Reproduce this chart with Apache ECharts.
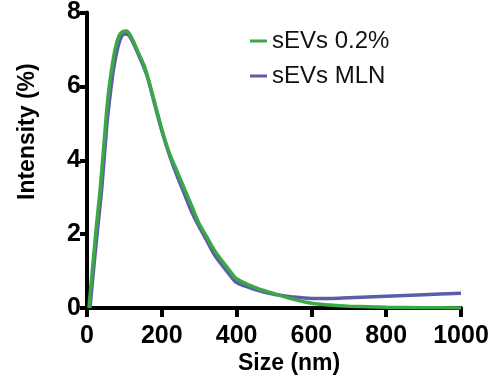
<!DOCTYPE html>
<html>
<head>
<meta charset="utf-8">
<script src="https://cdn.jsdelivr.net/npm/echarts@6/dist/echarts.min.js"></script>
<style>html,body{margin:0;padding:0;background:#fff}#c{width:501px;height:385px}</style>
</head>
<body>
<div id="c"></div>
<script>
var seriesNames = ['sEVs 0.2%', 'sEVs MLN'];
var xTicks = [0, 200, 400, 600, 800, 1000];
var yTicks = [0, 2, 4, 6, 8];

var sizeGreen = [5, 15, 25, 35, 45, 55, 65, 75, 85, 95, 106, 120, 140, 155, 180, 200, 220, 240, 260, 280, 300, 320, 340, 360, 380, 400, 450, 500, 550, 600, 650, 700, 800, 900, 1000];
var intensityGreen = [0, 1.1, 2.2, 3.2, 4.4, 5.6, 6.4, 7.0, 7.35, 7.48, 7.5, 7.3, 6.85, 6.5, 5.6, 4.84, 4.2, 3.72, 3.24, 2.76, 2.28, 1.93, 1.57, 1.29, 1.03, 0.79, 0.55, 0.39, 0.24, 0.13, 0.08, 0.05, 0.02, 0.01, 0.0];

var sizeBlue = [8, 20, 28, 40, 53, 60, 70, 80, 90, 100, 110, 120, 140, 160, 180, 200, 220, 240, 260, 280, 300, 320, 340, 360, 380, 400, 450, 500, 550, 600, 650, 700, 800, 900, 1000];
var intensityBlue = [0, 1.3, 2.1, 3.3, 4.95, 5.6, 6.4, 6.95, 7.3, 7.42, 7.4, 7.25, 6.8, 6.3, 5.55, 4.8, 4.15, 3.6, 3.1, 2.6, 2.2, 1.83, 1.45, 1.17, 0.92, 0.69, 0.5, 0.37, 0.3, 0.26, 0.26, 0.28, 0.32, 0.36, 0.4];

function pairs(xs, ys) { return xs.map(function (x, i) { return [x, ys[i]]; }); }

var FONT = '"Liberation Sans", Arial, Helvetica, sans-serif';
var chart = echarts.init(document.getElementById('c'), null, {renderer: 'canvas'});
chart.setOption({
  animation: false,
  backgroundColor: '#ffffff',
  grid: {left: 87, right: 40, top: 4, bottom: 77},
  legend: {
    orient: 'vertical', left: 245, top: 24,
    itemWidth: 17, itemHeight: 3, itemGap: 11,
    icon: 'rect',
    data: [seriesNames[0], seriesNames[1]],
    textStyle: {fontFamily: FONT, fontSize: 24, color: '#111'}
  },
  xAxis: {
    type: 'value', min: xTicks[0], max: xTicks[xTicks.length - 1], interval: 200,
    splitLine: {show: false},
    axisLine: {show: true, onZero: false, lineStyle: {color: '#000', width: 4}},
    axisTick: {show: true, length: 9, lineStyle: {color: '#000', width: 4}},
    axisLabel: {fontFamily: FONT, fontSize: 25, fontWeight: 'bold', color: '#000', margin: 16,
      formatter: function (v) { return String(v); }}
  },
  yAxis: {
    type: 'value', min: yTicks[0], max: yTicks[yTicks.length - 1], interval: 2,
    splitLine: {show: false},
    axisLine: {show: true, onZero: false, lineStyle: {color: '#000', width: 4}},
    axisTick: {show: true, length: 7, lineStyle: {color: '#000', width: 4}},
    axisLabel: {fontFamily: FONT, fontSize: 25, fontWeight: 'bold', color: '#000', margin: 6,
      formatter: function (v) { return String(v); }}
  },
  graphic: [
    {type: 'text', left: 238, top: 352, style: {text: 'Size (nm)', font: 'bold 23px ' + FONT, fill: '#000'}},
    {type: 'text', x: 16, y: 200, rotation: Math.PI / 2,
      style: {text: 'Intensity (%)', font: 'bold 23px ' + FONT, fill: '#000', textAlign: 'left', textVerticalAlign: 'top'}},
    {type: 'text', x: -5, y: 5, style: {text: 'D', font: 'bold 30px ' + FONT, fill: '#000', textVerticalAlign: 'bottom'}}
  ],
  series: [
    {
      name: seriesNames[1], type: 'line', data: pairs(sizeBlue, intensityBlue),
      showSymbol: false, smooth: 0.3, z: 2,
      lineStyle: {color: '#5b5da8', width: 3.5}, itemStyle: {color: '#5b5da8'}
    },
    {
      name: seriesNames[0], type: 'line', data: pairs(sizeGreen, intensityGreen),
      showSymbol: false, smooth: 0.3, z: 3,
      lineStyle: {color: '#3aa847', width: 3.5}, itemStyle: {color: '#3aa847'}
    }
  ]
});
</script>
</body>
</html>
